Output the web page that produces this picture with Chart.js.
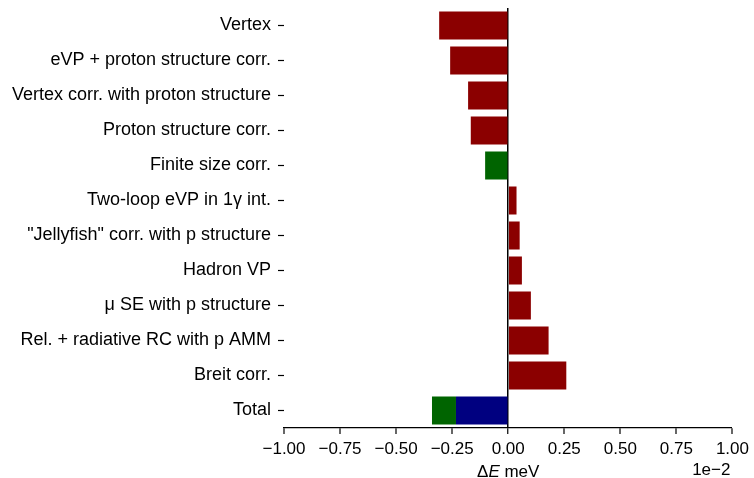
<!DOCTYPE html>
<html>
<head>
<meta charset="utf-8">
<script src="https://cdn.jsdelivr.net/npm/chart.js@4"></script>
<style>
  html, body { margin: 0; padding: 0; background: #fff; }
  #wrap { width: 754px; height: 478px; }
</style>
</head>
<body>
<div id="wrap"><canvas id="myChart" width="754" height="478"></canvas></div>
<script>
// valores em unidades de 1e-2 meV
const categorias = [
  'Vertex',
  'eVP + proton structure corr.',
  'Vertex corr. with proton structure',
  'Proton structure corr.',
  'Finite size corr.',
  'Two-loop eVP in 1\u03b3 int.',
  '"Jellyfish" corr. with p structure',
  'Hadron VP',
  '\u03bc SE with p structure',
  'Rel. + radiative RC with p AMM',
  'Breit corr.',
  'Total'
];
const valores = [-0.308, -0.259, -0.179, -0.167, -0.103, 0.037, 0.051, 0.061, 0.101, 0.180, 0.259, -0.233];
const totalFinito = [null, null, null, null, null, null, null, null, null, null, null, -0.107];
const cores = ['#8b0000', '#8b0000', '#8b0000', '#8b0000', '#006400', '#8b0000',
  '#8b0000', '#8b0000', '#8b0000', '#8b0000', '#8b0000', '#000080'];
const xTicks = [-1.00, -0.75, -0.50, -0.25, 0.00, 0.25, 0.50, 0.75, 1.00];

const fonte = 'Liberation Sans, Arial, sans-serif';

// titulo do eixo x (com E em italico) e o fator 1e-2
const textoEixo = {
  id: 'textoEixo',
  afterDraw(chart) {
    const ctx = chart.ctx;
    const xs = chart.scales.x;
    ctx.save();
    ctx.fillStyle = '#000';
    ctx.textBaseline = 'alphabetic';
    const partes = [
      { t: '\u0394', f: '17px ' + fonte },
      { t: 'E', f: 'italic 17px ' + fonte },
      { t: ' meV', f: '17px ' + fonte }
    ];
    let total = 0;
    partes.forEach(p => { ctx.font = p.f; total += ctx.measureText(p.t).width; });
    let x = xs.getPixelForValue(0) - total / 2;
    partes.forEach(p => {
      ctx.font = p.f;
      ctx.fillText(p.t, x, 477);
      x += ctx.measureText(p.t).width;
    });
    ctx.font = '17px ' + fonte;
    ctx.textAlign = 'right';
    ctx.fillText('1e\u22122', xs.right - 2, 475);
    ctx.restore();
  }
};

const ctx1 = document.getElementById('myChart').getContext('2d');

const chart1 = new Chart(ctx1, {
  type: 'bar',
  data: {
    labels: categorias,
    datasets: [{
      data: valores,
      backgroundColor: cores,
      categoryPercentage: 1.0,
      barPercentage: 0.8
    }, {
      data: totalFinito,
      backgroundColor: '#006400',
      categoryPercentage: 1.0,
      barPercentage: 0.8
    }]
  },
  options: {
    indexAxis: 'y',
    responsive: false,
    animation: false,
    layout: { padding: { top: 8, right: 18, left: 0, bottom: 0 } },
    plugins: {
      legend: { display: false },
      tooltip: { enabled: false }
    },
    scales: {
      x: {
        stacked: true,
        min: -1,
        max: 1,
        afterBuildTicks(scale) {
          scale.ticks = xTicks.map(v => ({ value: v }));
        },
        afterFit(scale) { scale.height = 50; },
        border: { display: true, color: '#000', width: 1.2 },
        grid: {
          display: true,
          drawOnChartArea: true,
          drawTicks: true,
          tickLength: 6,
          tickColor: '#000',
          tickWidth: 1.2,
          color: c => (c.tick && c.tick.value === 0) ? '#000' : 'rgba(0,0,0,0)',
          lineWidth: c => (c.tick && c.tick.value === 0) ? 1.5 : 0
        },
        ticks: {
          padding: 5,
          color: '#000',
          font: { size: 17, family: fonte },
          callback: v => Number(v).toFixed(2).replace('-', '\u2212')
        }
      },
      y: {
        stacked: true,
        afterFit(scale) {
          scale.width = 284;
          scale.paddingTop = 0;
          scale.paddingBottom = 0;
        },
        border: { display: false },
        grid: {
          display: true,
          offset: false,
          drawOnChartArea: false,
          drawTicks: true,
          tickLength: 6,
          tickColor: '#000',
          tickWidth: 1.2
        },
        ticks: {
          padding: 7,
          color: '#000',
          font: { size: 18, family: fonte }
        }
      }
    }
  },
  plugins: [textoEixo]
});
</script>
</body>
</html>
